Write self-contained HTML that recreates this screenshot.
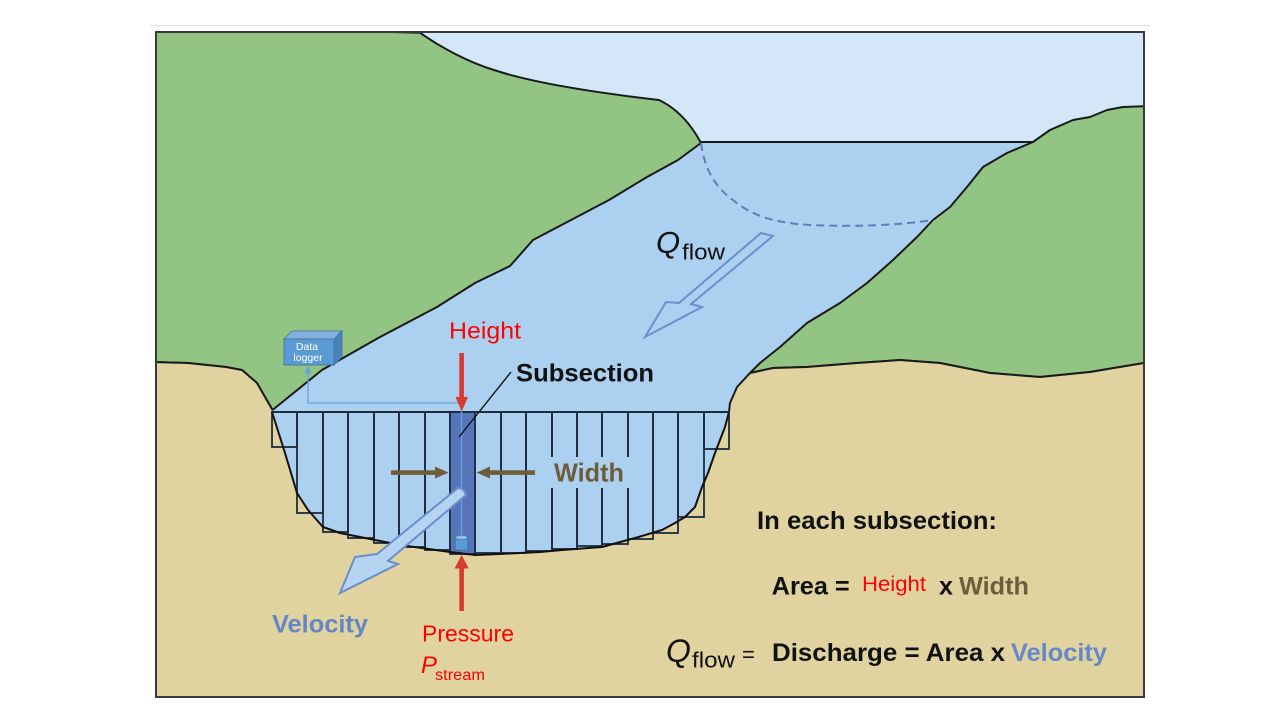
<!DOCTYPE html>
<html><head><meta charset="utf-8"><style>
html,body{margin:0;padding:0;background:#fff;}
svg{display:block;}
text{font-family:"Liberation Sans",Arial,sans-serif;}
</style></head><body>
<svg width="1280" height="720" viewBox="0 0 1280 720" xmlns="http://www.w3.org/2000/svg">
<defs><clipPath id="fr"><rect x="156" y="32" width="988" height="665"/></clipPath></defs>
<rect x="0" y="0" width="1280" height="720" fill="#fff"/>
<line x1="150" y1="25.5" x2="1150" y2="25.5" stroke="#e2e2e2" stroke-width="1.2"/>
<g clip-path="url(#fr)">
<rect x="156" y="32" width="988" height="665" fill="#d4e7f8"/>
<!-- water -->
<path d="M701,143 L1033,142 L1007,153 L983,167 L967,187 L950,207 L933,220 L917,237 L893,260 L867,283 L840,303 L807,323 L780,347 L760,363 L750,373 L737,387 L730,403 L729,412 L272,412 L322,370 L380,337 L437,307 L475,283 L510,266 L533,240 L571,220 L609,200 L647,177 L678,160 Z" fill="#abd0f0"/>
<!-- left hill -->
<path d="M150,26 L420,32.7 C440,47 468,62 494,70 C530,82 590,92 659,100 C680,110 693,128 701,143 L678,160 L647,177 L609,200 L571,220 L533,240 L510,266 L475,283 L437,307 L380,337 L322,370 L272.5,410 L265,397 L257,383 L242,370 L226,367 L188,363 L150,362 Z" fill="#92c483" stroke="#1a1a1a" stroke-width="2" stroke-linejoin="round"/>
<!-- right hill -->
<path d="M1033,142 L1050,130 L1073,120 L1090,117 L1107,110 L1123,107 L1150,106 L1150,362 L1090,372 L1040,377 L990,373 L940,363 L900,360 L857,363 L807,367 L773,368 L750,373 L760,363 L780,347 L807,323 L840,303 L867,283 L893,260 L917,237 L933,220 L950,207 L967,187 L983,167 L1007,153 Z" fill="#92c483" stroke="#1a1a1a" stroke-width="2" stroke-linejoin="round"/>
<line x1="701" y1="142" x2="1033" y2="142" stroke="#1a1a1a" stroke-width="2"/>
<!-- tan -->
<path d="M150,362 L188,363 L226,367 L242,370 L257,383 L265,397 L272.5,410 L272,412 L729,412 L730,403 L737,387 L750,373 L773,368 L807,367 L857,363 L900,360 L940,363 L990,373 L1040,377 L1090,372 L1150,362 L1150,700 L150,700 Z" fill="#e1d3a0"/>
<path d="M150,362 L188,363 L226,367 L242,370 L257,383 L265,397 L272.5,410" fill="none" stroke="#1a1a1a" stroke-width="2"/>
<path d="M750,373 L773,368 L807,367 L857,363 L900,360 L940,363 L990,373 L1040,377 L1090,372 L1150,362" fill="none" stroke="#1a1a1a" stroke-width="2"/>
<path d="M729,412 L730,403 L737,387 L750,373" fill="none" stroke="#1a1a1a" stroke-width="2"/>
</g>
<!-- dashed line -->
<path d="M701,143 C704,165 712,185 733,200 C752,216 775,223 810,225 C860,227 900,225 933,220" fill="none" stroke="#5d7fb8" stroke-width="2" stroke-dasharray="8 5"/>
<!-- channel water -->
<path d="M272,412 L285,453 L297,493 L308,510 L323,527 L340,533 L360,537 L400,545 L450,552 L475,555 L500,554 L540,552 L562,550 L602,547 L635,538 L662,530 L675,523 L685,517 L695,507 L702,487 L708,473 L715,453 L725,427 L729,412 Z" fill="#abd0f0"/>
<!-- columns -->
<g fill="none" stroke="#1d2b3c" stroke-width="1.8">
<rect x="272" y="412" width="25" height="35"/>
<rect x="297" y="412" width="26" height="101"/>
<rect x="323" y="412" width="25" height="120"/>
<rect x="348" y="412" width="26" height="126"/>
<rect x="374" y="412" width="25" height="131"/>
<rect x="399" y="412" width="26" height="135"/>
<rect x="425" y="412" width="25" height="138"/>
<rect x="475" y="412" width="26" height="141"/>
<rect x="501" y="412" width="25" height="141"/>
<rect x="526" y="412" width="26" height="139"/>
<rect x="552" y="412" width="25" height="137"/>
<rect x="577" y="412" width="25" height="134"/>
<rect x="602" y="412" width="26" height="132"/>
<rect x="628" y="412" width="25" height="127"/>
<rect x="653" y="412" width="25" height="121"/>
<rect x="678" y="412" width="26" height="105"/>
<rect x="704" y="412" width="25" height="37"/>
</g>
<rect x="450" y="412" width="25" height="142" fill="#5675bb" stroke="#1d2b3c" stroke-width="1.8"/>
<!-- gap for Width label -->
<rect x="546" y="457" width="86" height="31" fill="#abd0f0"/>
<!-- bank curve stroke -->
<path d="M272,412 L285,453 L297,493 L308,510 L323,527 L340,533 L360,537 L400,545 L450,552 L475,555 L500,554 L540,552 L562,550 L602,547 L635,538 L662,530 L675,523 L685,517 L695,507 L702,487 L708,473 L715,453 L725,427 L729,412" fill="none" stroke="#111" stroke-width="2" stroke-linejoin="round"/>
<line x1="271" y1="412" x2="730" y2="412" stroke="#1d2b3c" stroke-width="2"/>
<!-- data logger line -->
<path d="M308,372 L308,403 L461.5,403 L461.5,536" fill="none" stroke="#6aa3dc" stroke-width="1.3"/>
<polygon points="304.5,373.5 311.5,373.5 308,365.5" fill="#6aa3dc"/>
<!-- data logger -->
<polygon points="284,339 292,331 342,331 334,339" fill="#80b1e1" stroke="#41719c" stroke-width="0.8"/>
<polygon points="334,339 342,331 342,357 334,365" fill="#4a82bb" stroke="#41719c" stroke-width="0.8"/>
<rect x="284" y="339" width="50" height="26" fill="#5b9bd5" stroke="#41719c" stroke-width="0.8"/>
<text x="307" y="350" font-size="10.5" fill="#fff" text-anchor="middle">Data</text>
<text x="308" y="361" font-size="10.5" fill="#fff" text-anchor="middle">logger</text>
<!-- cylinder -->
<rect x="455.3" y="537" width="12.4" height="13" fill="#5b9bd5" stroke="#41719c" stroke-width="0.7"/>
<ellipse cx="461.5" cy="537.5" rx="6.2" ry="2.3" fill="#8fbde8" stroke="#41719c" stroke-width="0.7"/>
<!-- subsection leader -->
<line x1="511" y1="372" x2="459" y2="437" stroke="#111" stroke-width="1.4"/>
<!-- Height arrow -->
<rect x="459.3" y="353" width="4.6" height="46" fill="#d83a30"/>
<polygon points="455.5,397 468,397 461.7,411.5" fill="#d83a30"/>
<!-- Pressure arrow -->
<rect x="459.3" y="567" width="4.6" height="44" fill="#d83a30"/>
<polygon points="454.5,568.5 468.8,568.5 461.6,555" fill="#d83a30"/>
<!-- Width arrows -->
<rect x="391" y="470.3" width="46" height="4.6" fill="#6e5c3b"/>
<polygon points="435,466.5 448.5,472.6 435,478.5" fill="#6e5c3b"/>
<rect x="489" y="470.3" width="46" height="4.6" fill="#6e5c3b"/>
<polygon points="490,466.5 476.5,472.6 490,478.5" fill="#6e5c3b"/>
<!-- Velocity arrow -->
<path d="M458,488 Q464,488 466,495 L388,561 L398,564 L340,593 L355,557 L377,554 Z" fill="#b5d4f2" stroke="#6a8ecb" stroke-width="2" stroke-linejoin="miter"/>
<!-- Q flow arrow -->
<polygon points="761,233 773,236 691,304 702,307 645,337 666,302 679,303" fill="none" stroke="#6c8fcc" stroke-width="2"/>
<!-- frame -->
<rect x="156" y="32" width="988" height="665" fill="none" stroke="#3a3a3a" stroke-width="2"/>
<!-- labels -->
<text x="656" y="253" font-size="31" font-style="italic" fill="#111">Q</text>
<text x="682" y="259.5" font-size="22" fill="#111" textLength="43" lengthAdjust="spacingAndGlyphs">flow</text>
<text x="449" y="338.5" font-size="23" fill="#ff0000" textLength="72" lengthAdjust="spacingAndGlyphs">Height</text>
<text x="516" y="381.5" font-size="25" font-weight="bold" fill="#111" textLength="138" lengthAdjust="spacingAndGlyphs">Subsection</text>
<text x="554" y="481.5" font-size="26" font-weight="bold" fill="#6e5c3b" textLength="70" lengthAdjust="spacingAndGlyphs">Width</text>
<text x="272" y="632.5" font-size="25" font-weight="bold" fill="#6586c4" textLength="96" lengthAdjust="spacingAndGlyphs">Velocity</text>
<text x="422" y="641.5" font-size="23" fill="#ff0000" textLength="92" lengthAdjust="spacingAndGlyphs">Pressure</text>
<text x="421" y="673" font-size="24" font-style="italic" fill="#ff0000">P</text>
<text x="435" y="680" font-size="16" fill="#ff0000" textLength="50" lengthAdjust="spacingAndGlyphs">stream</text>
<text x="757" y="529" font-size="25" font-weight="bold" fill="#111" textLength="240" lengthAdjust="spacingAndGlyphs">In each subsection:</text>
<text x="771.7" y="594.5" font-size="25" font-weight="bold" fill="#111" textLength="78" lengthAdjust="spacingAndGlyphs">Area =</text>
<text x="862" y="591" font-size="21" fill="#ff0000" textLength="64" lengthAdjust="spacingAndGlyphs">Height</text>
<text x="939" y="594.5" font-size="25" font-weight="bold" fill="#111">x</text>
<text x="959" y="594.5" font-size="25" font-weight="bold" fill="#6e5c3b" textLength="70" lengthAdjust="spacingAndGlyphs">Width</text>
<text x="666" y="662" font-size="32" font-style="italic" fill="#111">Q</text>
<text x="692" y="667.5" font-size="22" fill="#111" textLength="43" lengthAdjust="spacingAndGlyphs">flow</text>
<text x="742" y="662" font-size="22" fill="#111">=</text>
<text x="772" y="661" font-size="25" font-weight="bold" fill="#111" textLength="233" lengthAdjust="spacingAndGlyphs">Discharge = Area x</text>
<text x="1011" y="661" font-size="25" font-weight="bold" fill="#6688c8" textLength="96" lengthAdjust="spacingAndGlyphs">Velocity</text>
</svg>
</body></html>
